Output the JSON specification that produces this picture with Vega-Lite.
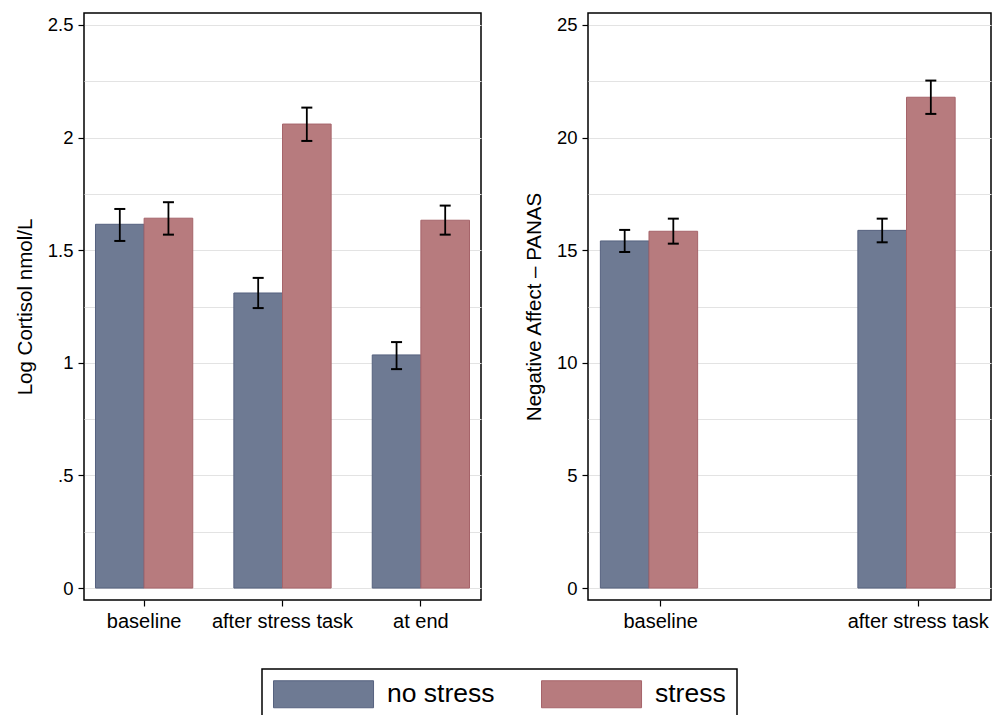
{
  "$schema": "https://vega.github.io/schema/vega-lite/v6.json",
  "padding": {"left": 14, "top": 12, "right": 0, "bottom": 0},
  "background": "white",
  "config": {
    "font": "Liberation Sans",
    "view": {"stroke": "black", "strokeWidth": 1.5},
    "axis": {"labelFont": "Liberation Sans", "titleFont": "Liberation Sans", "labelColor": "black", "titleColor": "black", "tickColor": "black", "domain": false, "titleFontWeight": "normal"},
    "concat": {"spacing": 41}
  },
  "datasets": {
    "cortisol": [
      {"time": "baseline", "group": "no stress", "mean": 1.615, "lo": 1.541, "hi": 1.683},
      {"time": "baseline", "group": "stress", "mean": 1.642, "lo": 1.569, "hi": 1.713},
      {"time": "after stress task", "group": "no stress", "mean": 1.31, "lo": 1.243, "hi": 1.377},
      {"time": "after stress task", "group": "stress", "mean": 2.06, "lo": 1.985, "hi": 2.133},
      {"time": "at end", "group": "no stress", "mean": 1.035, "lo": 0.972, "hi": 1.092},
      {"time": "at end", "group": "stress", "mean": 1.633, "lo": 1.569, "hi": 1.698}
    ],
    "panas": [
      {"time": "baseline", "group": "no stress", "mean": 15.41, "lo": 14.92, "hi": 15.9},
      {"time": "baseline", "group": "stress", "mean": 15.84, "lo": 15.29, "hi": 16.4},
      {"time": "after stress task", "group": "no stress", "mean": 15.88, "lo": 15.35, "hi": 16.4},
      {"time": "after stress task", "group": "stress", "mean": 21.79, "lo": 21.05, "hi": 22.53}
    ]
  },
  "hconcat": [
    {
      "width": 397,
      "height": 587,
      "data": {"name": "cortisol"},
      "encoding": {
        "x": {"field": "time", "type": "nominal", "sort": ["baseline", "after stress task", "at end"],
          "scale": {"paddingInner": 0.297, "paddingOuter": 0.083},
          "axis": {"title": null, "labelAngle": 0, "labelFontSize": 20, "tickSize": 6, "tickWidth": 1.2, "labelPadding": 5, "bandPosition": 0.5, "grid": false}},
        "xOffset": {"field": "group", "type": "nominal", "sort": ["no stress", "stress"], "scale": {"paddingInner": 0, "paddingOuter": 0}}
      },
      "layer": [
        {
          "mark": {"type": "bar", "strokeWidth": 1, "opacity": 1},
          "encoding": {
            "y": {"field": "mean", "type": "quantitative",
              "scale": {"domain": [-0.053, 2.553], "nice": false, "zero": false},
              "axis": {"title": "Log Cortisol nmol/L", "titleFontSize": 20.5, "titlePadding": 12,
                "values": [0, 0.25, 0.5, 0.75, 1, 1.25, 1.5, 1.75, 2, 2.25, 2.5],
                "labelExpr": "datum.value % 0.5 === 0 ? (datum.value === 0.5 ? '.5' : format(datum.value, '~g')) : ''",
                "labelFontSize": 18.5, "labelPadding": 5, "tickSize": 6, "tickWidth": 1.2,
                "tickOpacity": {"condition": {"test": "datum.value % 0.5 === 0", "value": 1}, "value": 0},
                "grid": true, "gridColor": "#e3e3e3", "gridWidth": 1.2}},
            "color": {"field": "group", "type": "nominal",
              "scale": {"domain": ["no stress", "stress"], "range": ["#6e7a93", "#b77b7e"]},
              "legend": {"title": null, "orient": "none", "legendX": 178, "legendY": 656, "direction": "horizontal",
                "symbolType": "M-1,-1H6.41V1H-1Z", "symbolSize": 729, "symbolStrokeWidth": 1, "symbolOpacity": 1,
                "labelFontSize": 26.5, "labelColor": "black", "labelOffset": 86, "columnPadding": 44,
                "padding": 11, "strokeColor": "black",
                "encode": {"legend": {"update": {"strokeWidth": {"value": 1.5}}}}}},
            "stroke": {"field": "group", "type": "nominal",
              "scale": {"domain": ["no stress", "stress"], "range": ["#56627f", "#a6646a"]}}
          }
        },
        {
          "mark": {"type": "rule", "color": "black", "strokeWidth": 1.8},
          "encoding": {"y": {"field": "lo", "type": "quantitative"}, "y2": {"field": "hi"}}
        },
        {
          "mark": {"type": "tick", "color": "black", "thickness": 2, "size": 11, "opacity": 1},
          "encoding": {"y": {"field": "hi", "type": "quantitative"}}
        },
        {
          "mark": {"type": "tick", "color": "black", "thickness": 2, "size": 11, "opacity": 1},
          "encoding": {"y": {"field": "lo", "type": "quantitative"}}
        }
      ]
    },
    {
      "width": 403,
      "height": 587,
      "data": {"name": "panas"},
      "encoding": {
        "x": {"field": "time", "type": "nominal", "sort": ["baseline", "after stress task"],
          "scale": {"paddingInner": 0.531, "paddingOuter": 0.048},
          "axis": {"title": null, "labelAngle": 0, "labelFontSize": 20, "tickSize": 6, "tickWidth": 1.2, "labelPadding": 5, "bandPosition": 0.5, "grid": false}},
        "xOffset": {"field": "group", "type": "nominal", "sort": ["no stress", "stress"], "scale": {"paddingInner": 0, "paddingOuter": 0}}
      },
      "layer": [
        {
          "mark": {"type": "bar", "strokeWidth": 1, "opacity": 1},
          "encoding": {
            "y": {"field": "mean", "type": "quantitative",
              "scale": {"domain": [-0.53, 25.53], "nice": false, "zero": false},
              "axis": {"title": "Negative Affect – PANAS", "titleFontSize": 20.5, "titlePadding": 12,
                "values": [0, 2.5, 5, 7.5, 10, 12.5, 15, 17.5, 20, 22.5, 25],
                "labelExpr": "datum.value % 5 === 0 ? format(datum.value, '~g') : ''",
                "labelFontSize": 18.5, "labelPadding": 5, "tickSize": 6, "tickWidth": 1.2,
                "tickOpacity": {"condition": {"test": "datum.value % 5 === 0", "value": 1}, "value": 0},
                "grid": true, "gridColor": "#e3e3e3", "gridWidth": 1.2}},
            "color": {"field": "group", "type": "nominal",
              "scale": {"domain": ["no stress", "stress"], "range": ["#6e7a93", "#b77b7e"]}},
            "stroke": {"field": "group", "type": "nominal",
              "scale": {"domain": ["no stress", "stress"], "range": ["#56627f", "#a6646a"]}}
          }
        },
        {
          "mark": {"type": "rule", "color": "black", "strokeWidth": 1.8},
          "encoding": {"y": {"field": "lo", "type": "quantitative"}, "y2": {"field": "hi"}}
        },
        {
          "mark": {"type": "tick", "color": "black", "thickness": 2, "size": 11, "opacity": 1},
          "encoding": {"y": {"field": "hi", "type": "quantitative"}}
        },
        {
          "mark": {"type": "tick", "color": "black", "thickness": 2, "size": 11, "opacity": 1},
          "encoding": {"y": {"field": "lo", "type": "quantitative"}}
        }
      ]
    }
  ]
}
